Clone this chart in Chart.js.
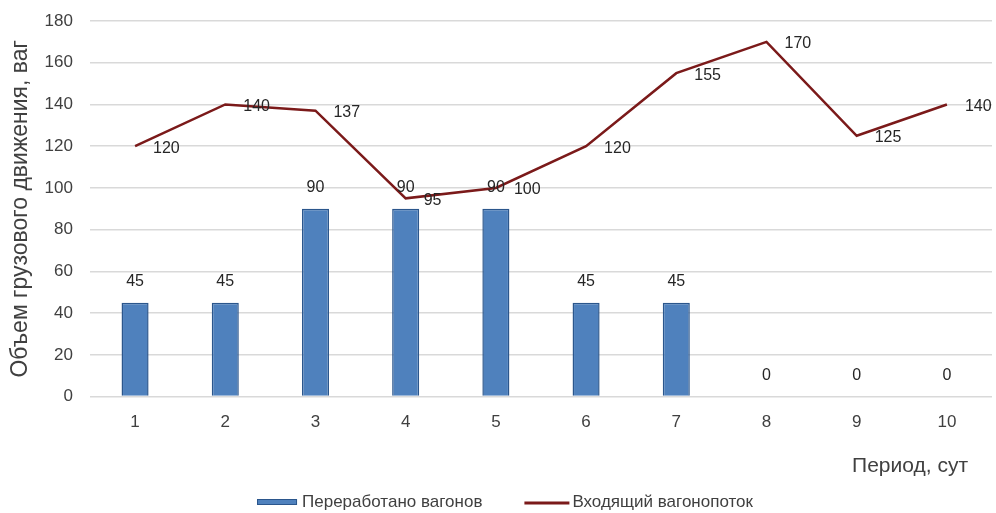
<!DOCTYPE html>
<html>
<head>
<meta charset="utf-8">
<script src="https://cdn.jsdelivr.net/npm/chart.js@4/dist/chart.umd.min.js"></script>
<style>
html,body{margin:0;padding:0;background:#fff;}
#wrap{width:996px;height:513px;position:relative;}
</style>
</head>
<body>
<div id="wrap"><canvas id="c" width="996" height="513"></canvas></div>
<script>
const categories = ['1','2','3','4','5','6','7','8','9','10'];
const processedWagons = [45,45,90,90,90,45,45,0,0,0];
const incomingFlow = [120,140,137,95,100,120,155,170,125,140];
const seriesNames = ['Переработано вагонов','Входящий вагонопоток'];
const yTitle = 'Объем грузового движения, ваг';
const xTitle = 'Период, сут';

const FONT = "'Liberation Sans', Arial, sans-serif";
const TEXT = '#404040';
const BAR_FILL = '#4f81bd';
const BAR_EDGE = '#2b568c';
const LINE_COL = '#7b1a1a';

const labelPlugin = {
  id: 'valueLabels',
  afterDatasetsDraw(chart) {
    const ctx = chart.ctx;
    ctx.save();
    ctx.font = '16px ' + FONT;
    ctx.fillStyle = '#262626';
    chart.data.datasets.forEach((ds, di) => {
      const meta = chart.getDatasetMeta(di);
      meta.data.forEach((el, i) => {
        const v = ds.data[i];
        if (ds.type === 'bar') {
          ctx.textAlign = 'center';
          ctx.textBaseline = 'middle';
          ctx.fillText(String(v), el.x, el.y - 21);
        } else {
          ctx.textAlign = 'left';
          ctx.textBaseline = 'middle';
          ctx.fillText(String(v), el.x + 18, el.y + 2);
        }
      });
    });
    const ca = chart.chartArea;
    // x axis title
    ctx.font = '21px ' + FONT;
    ctx.fillStyle = TEXT;
    ctx.textAlign = 'right';
    ctx.textBaseline = 'middle';
    ctx.fillText(xTitle, ca.right - 24, ca.bottom + 70);
    // legend
    ctx.font = '17px ' + FONT;
    ctx.textAlign = 'left';
    const w1 = ctx.measureText(seriesNames[0]).width;
    const w2 = ctx.measureText(seriesNames[1]).width;
    const total = 40 + 5 + w1 + 42 + 45 + 3 + w2;
    let x = chart.width / 2 + 7 - total / 2;
    const y = chart.height - 11;
    ctx.fillStyle = BAR_FILL;
    ctx.fillRect(x, y - 3, 40, 6);
    ctx.strokeStyle = BAR_EDGE;
    ctx.lineWidth = 1;
    ctx.strokeRect(x + 0.5, y - 2.5, 39, 5);
    x += 45;
    ctx.fillStyle = TEXT;
    ctx.fillText(seriesNames[0], x, y);
    x += w1 + 42;
    ctx.strokeStyle = LINE_COL;
    ctx.lineWidth = 3;
    ctx.beginPath();
    ctx.moveTo(x, y + 1);
    ctx.lineTo(x + 45, y + 1);
    ctx.stroke();
    x += 48;
    ctx.fillStyle = TEXT;
    ctx.fillText(seriesNames[1], x, y);
    ctx.restore();
  }
};

new Chart(document.getElementById('c'), {
  data: {
    labels: categories,
    datasets: [
      {
        type: 'bar',
        label: seriesNames[0],
        data: processedWagons,
        backgroundColor: BAR_FILL,
        borderColor: BAR_EDGE,
        borderWidth: 1.5,
        barPercentage: 0.3,
        categoryPercentage: 1.0,
        order: 2
      },
      {
        type: 'line',
        label: seriesNames[1],
        data: incomingFlow,
        borderColor: LINE_COL,
        backgroundColor: LINE_COL,
        borderWidth: 2.5,
        pointRadius: 0,
        tension: 0,
        order: 1
      }
    ]
  },
  options: {
    responsive: false,
    animation: false,
    layout: { padding: { left: 2, right: 4, top: 0, bottom: 40 } },
    plugins: {
      tooltip: { enabled: false },
      legend: { display: false }
    },
    scales: {
      x: {
        offset: true,
        grid: { display: false, drawTicks: false },
        border: { display: false },
        ticks: { font: { size: 17, family: FONT }, color: TEXT, padding: 16 },
        afterFit(scale) { scale.height += 24; }
      },
      y: {
        min: 0, max: 180,
        ticks: { stepSize: 20, font: { size: 17, family: FONT }, color: TEXT, padding: 17 },
        grid: { color: '#d9d9d9', lineWidth: 1.5, drawTicks: false },
        border: { display: false },
        title: {
          display: true, text: yTitle,
          font: { size: 23, family: FONT }, color: TEXT,
          padding: { top: 5, bottom: 10 }
        },
        afterFit(scale) { scale.width -= 17; scale.paddingTop = 21; }
      }
    }
  },
  plugins: [labelPlugin]
});
</script>
</body>
</html>
